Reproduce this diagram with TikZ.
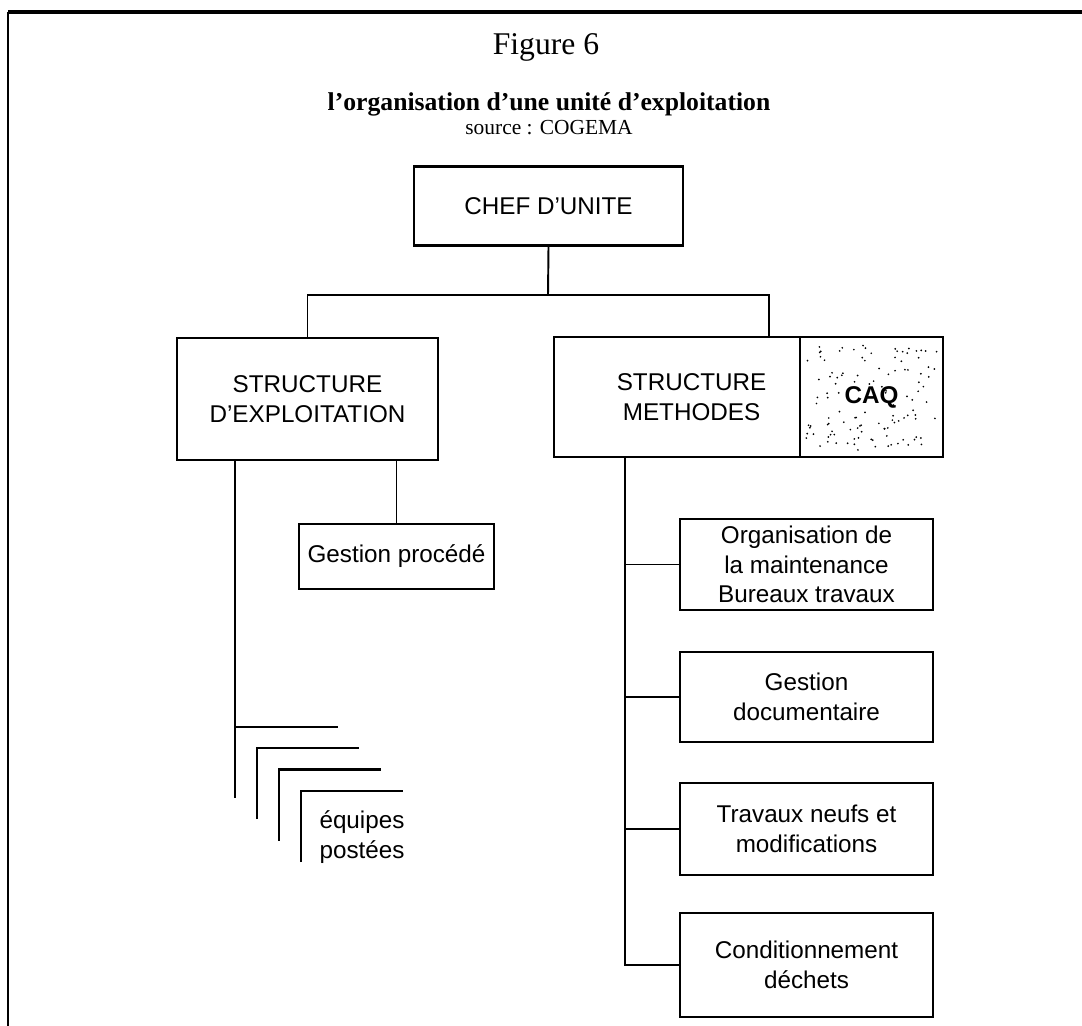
\documentclass[tikz,border=0pt]{standalone}
\usepackage{fontspec}
\setmainfont{Liberation Serif}
\setsansfont{Liberation Sans}
\begin{document}
\begin{tikzpicture}[x=0.02cm,y=-0.02cm,
    box/.style={draw,line width=1.5pt,inner sep=0pt,align=center,
      font=\sffamily\fontsize{13.8}{16.8}\selectfont},
    link/.style={line width=1.1pt},
    stack/.style={line width=1.7pt}]
  \useasboundingbox (0,0) rectangle (1082,1026);
  % cadre
  \draw[line width=2pt] (8,12) -- (1082,12);
  \draw[line width=1.1pt] (8,12) -- (8,1026);

  % titres
  \node (fig) at (546,47) {\fontsize{18}{20}\selectfont Figure 6};
  \node (title) at (549,104) {\fontsize{14.6}{17}\selectfont\bfseries l'organisation d'une unité d'exploitation};
  \node (source) at (549,128) {\fontsize{12.2}{14}\selectfont source : COGEMA};

  % boites
  \node[box,minimum width=5.38cm,minimum height=1.58cm] (chef) at (548.5,206) {CHEF D'UNITE};
  \node[box,minimum width=5.22cm,minimum height=2.44cm] (exploit) at (307.5,399) {STRUCTURE\\D'EXPLOITATION};
  \node[box,minimum width=4.92cm,minimum height=2.40cm] (methodes) at (677,397) {\hspace{1.2em}STRUCTURE\\\hspace{1.2em}METHODES};
  \pgfmathsetseed{17}
  \foreach \d in {1,...,120}
    \fill ({805+133*rnd},{342+108*rnd}) circle (0.55pt);
  \node[box,minimum width=2.86cm,minimum height=2.40cm,font=\sffamily\bfseries\fontsize{13.8}{16.8}\selectfont] (caq) at (871.5,397) {CAQ};
  \node[box,minimum width=3.90cm,minimum height=1.30cm] (procede) at (396.5,556.5) {Gestion procédé};
  \node[box,minimum width=5.06cm,minimum height=1.82cm] (org) at (806.5,564.5) {Organisation de\\la maintenance\\Bureaux travaux};
  \node[box,minimum width=5.06cm,minimum height=1.80cm] (doc) at (806.5,697) {Gestion\\documentaire};
  \node[box,minimum width=5.06cm,minimum height=1.84cm] (trav) at (806.5,829) {Travaux neufs et\\modifications};
  \node[box,minimum width=5.06cm,minimum height=2.08cm] (cond) at (806.5,965) {Conditionnement\\déchets};
  \node[align=center,font=\sffamily\fontsize{13.8}{17.5}\selectfont] (equipes) at (362,837) {équipes\\postées};

  % liaisons
  \coordinate (fork) at (548,295);
  \coordinate (mtop) at (769,337);
  \draw[link] (chef.south) -- (fork);
  \draw[link] (exploit.north) |- (fork) -| (mtop);

  \coordinate (etrunk) at (235,798);
  \coordinate (ebranch) at (338,727);
  \draw[stack] (exploit.south -| etrunk) -- (etrunk);
  \draw[stack] (etrunk |- ebranch) -- (ebranch);
  \foreach \k in {0,1,2}
    \draw[stack] (257+22*\k,819+21.5*\k) |- (359+22*\k,748+21.5*\k);
  \draw[link] (procede.north) -- (procede.north |- exploit.south);

  \coordinate (mtrunk) at (625,700);
  \draw[link] (methodes.south -| mtrunk) |- (cond.west);
  \foreach \b in {org,doc,trav}
    \draw[link] (\b.west) -- (\b.west -| mtrunk);
\end{tikzpicture}
\end{document}
